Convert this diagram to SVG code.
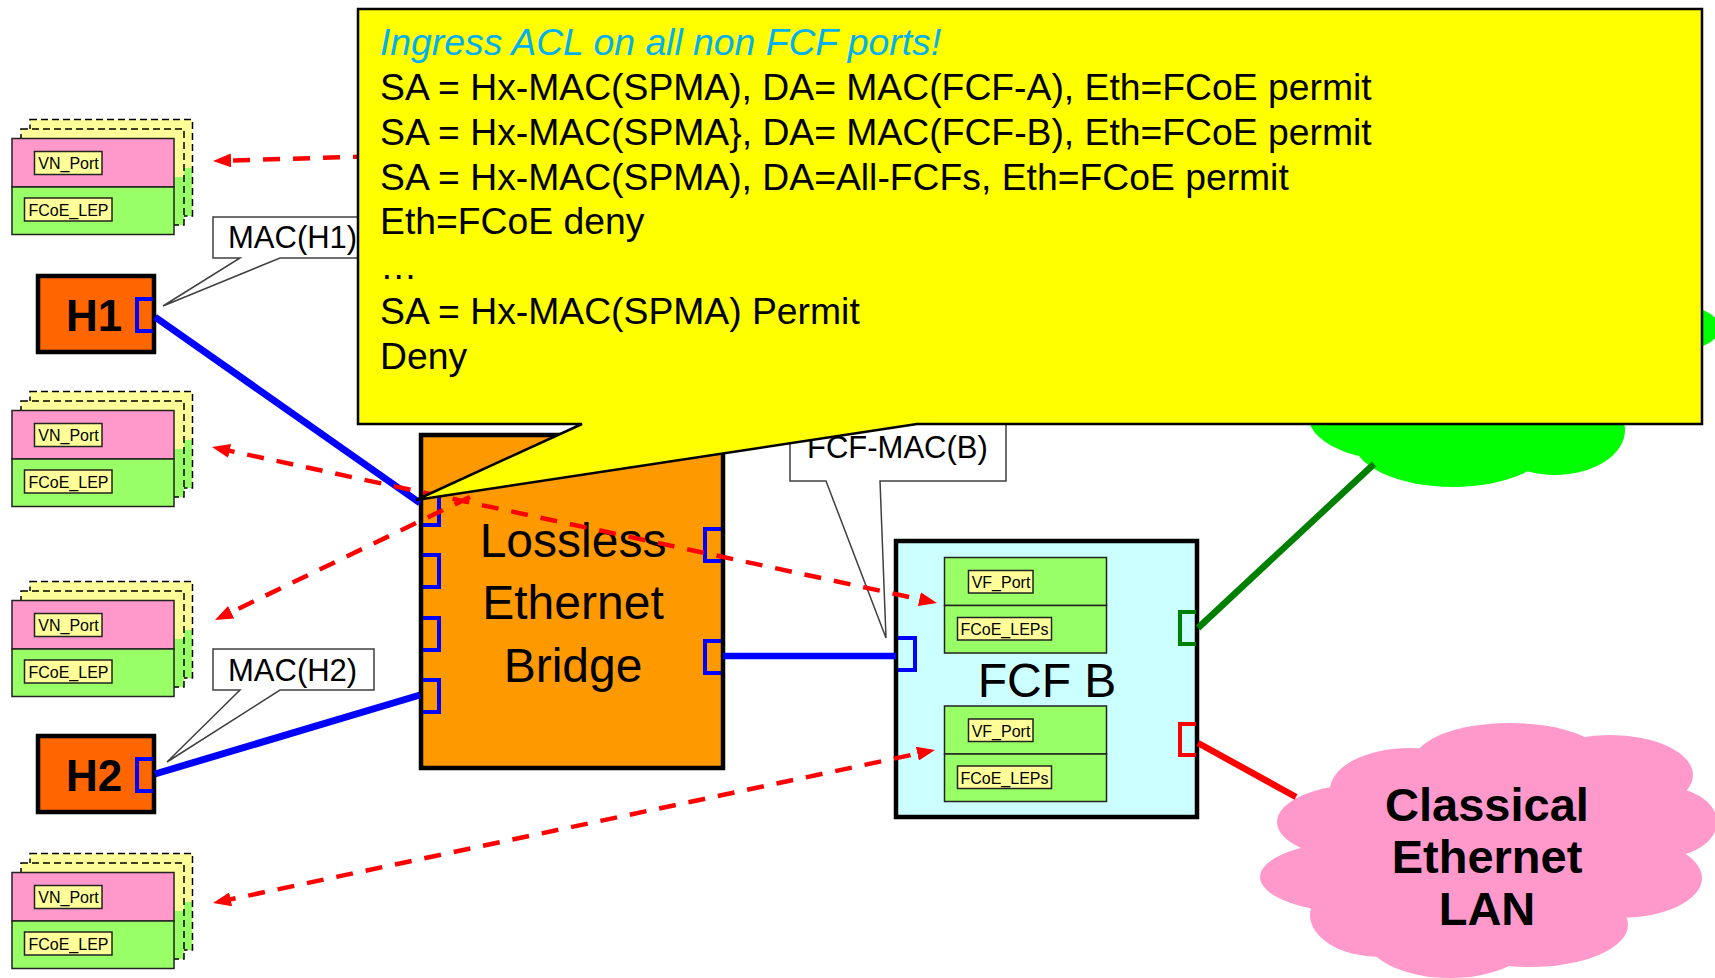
<svg xmlns="http://www.w3.org/2000/svg" width="1715" height="978" viewBox="0 0 1715 978">
<style>
text{font-family:"Liberation Sans",Arial,sans-serif;fill:#000}
.lbl{font-size:16px;text-anchor:middle}
.lblbox{fill:#FFFF99;stroke:#222;stroke-width:1.5}
.pink{fill:#FF99CC;stroke:#222;stroke-width:1.5}
.grn{fill:#99FF66;stroke:#222;stroke-width:1.5}
.back{fill:#FFFF99}
.backg{fill:#99FF66}
.dash{fill:none;stroke:#000;stroke-width:1.5;stroke-dasharray:7 4}
.port{fill:none;stroke:#0000FF;stroke-width:4}
.call{fill:#fff;stroke:#404040;stroke-width:1.5}
.calltxt{font-size:31px}
.big{font-size:48px;text-anchor:middle}
.acl{font-size:37.3px}
.arrow{fill:none;stroke:#FF0000;stroke-width:4.5;stroke-dasharray:17 13}
.host{fill:#FF6600;stroke:#000;stroke-width:4.5}
.hosttxt{font-size:44px;font-weight:bold}
</style>
<defs>
<marker id="ah" viewBox="0 0 18 14" refX="12" refY="7" markerWidth="18" markerHeight="14" markerUnits="userSpaceOnUse" orient="auto-start-reverse">
<path d="M0,0 L18,7 L0,14 z" fill="#FF0000"/>
</marker>
<g id="stack">
<rect class="back" x="30" y="119.5" width="162.5" height="96.5"/>
<rect class="backg" x="30" y="168" width="162.5" height="48"/>
<rect class="dash" x="30" y="119.5" width="162.5" height="96.5"/>
<rect class="back" x="21" y="129" width="163" height="96"/>
<rect class="backg" x="21" y="177" width="163" height="48"/>
<rect class="dash" x="21" y="129" width="163" height="96"/>
<rect class="pink" x="12" y="138.5" width="162" height="48.5"/>
<rect class="grn" x="12" y="187" width="162" height="47.5"/>
<rect class="lblbox" x="34.5" y="151.5" width="67.5" height="23"/>
<text class="lbl" x="68.5" y="169">VN_Port</text>
<rect class="lblbox" x="24.5" y="198" width="87.5" height="23"/>
<text class="lbl" x="68.5" y="216">FCoE_LEP</text>
</g>
<g id="vfgrp">
<rect class="grn" x="944.5" y="557.5" width="162" height="48"/>
<rect class="grn" x="944.5" y="605.5" width="162" height="47.5"/>
<rect class="lblbox" x="968.5" y="570.5" width="64.5" height="22.5"/>
<text class="lbl" x="1001" y="588">VF_Port</text>
<rect class="lblbox" x="957.5" y="617.5" width="94" height="22.5"/>
<text class="lbl" x="1004.5" y="635">FCoE_LEPs</text>
</g>
</defs>

<g id="fcoe-cloud" fill="#00FF00">
<ellipse cx="1500" cy="330" rx="180" ry="90"/>
<ellipse cx="1395" cy="415" rx="87" ry="45"/>
<ellipse cx="1453" cy="440" rx="100" ry="47"/>
<ellipse cx="1555" cy="430" rx="70" ry="45"/>
<ellipse cx="1670" cy="328" rx="50" ry="24"/>
</g>

<g id="lan-cloud">
<g fill="#FF99CC">
<ellipse cx="1490" cy="850" rx="160" ry="90"/>
<ellipse cx="1410" cy="790" rx="80" ry="42"/>
<ellipse cx="1510" cy="760" rx="95" ry="37"/>
<ellipse cx="1610" cy="775" rx="83" ry="40"/>
<ellipse cx="1660" cy="822" rx="57" ry="36"/>
<ellipse cx="1620" cy="878" rx="82" ry="40"/>
<ellipse cx="1530" cy="925" rx="98" ry="42"/>
<ellipse cx="1450" cy="935" rx="85" ry="43"/>
<ellipse cx="1380" cy="915" rx="70" ry="42"/>
<ellipse cx="1360" cy="877" rx="100" ry="36"/>
<ellipse cx="1365" cy="822" rx="88" ry="38"/>
</g>
<text x="1487" y="821" font-size="47" font-weight="bold" text-anchor="middle">Classical</text>
<text x="1487" y="873" font-size="47" font-weight="bold" text-anchor="middle">Ethernet</text>
<text x="1487" y="925" font-size="47" font-weight="bold" text-anchor="middle">LAN</text>
</g>

<g id="stack1"><use href="#stack"/></g>
<g id="stack2"><use href="#stack" transform="translate(0,272)"/></g>
<g id="stack3"><use href="#stack" transform="translate(0,462)"/></g>
<g id="stack4"><use href="#stack" transform="translate(0,734)"/></g>

<g id="H1">
<rect class="host" x="38" y="276" width="116" height="76"/>
<text class="hosttxt" x="66" y="331">H1</text>
<path class="port" d="M153,299 H137 V331 H153"/>
</g>
<g id="H2">
<rect class="host" x="38" y="736" width="116" height="76"/>
<text class="hosttxt" x="66" y="791">H2</text>
<path class="port" d="M153,759 H137 V791 H153"/>
</g>

<g id="mac-h1">
<path class="call" d="M213,217 H400 V258 H280 L163,306 L240,258 H213 Z"/>
<text class="calltxt" x="228" y="248">MAC(H1)</text>
</g>
<g id="mac-h2">
<path class="call" d="M213,649 H374 V690 H280 L167,762 L240,690 H213 Z"/>
<text class="calltxt" x="228" y="681">MAC(H2)</text>
</g>

<g id="bridge">
<rect x="421" y="435" width="302" height="333" fill="#FF9900" stroke="#000" stroke-width="4.5"/>
<text class="big" x="573" y="557">Lossless</text>
<text class="big" x="573" y="619">Ethernet</text>
<text class="big" x="573" y="682">Bridge</text>
<path class="port" d="M423,494 H439 V525 H423"/>
<path class="port" d="M423,555 H439 V587 H423"/>
<path class="port" d="M423,618 H439 V650 H423"/>
<path class="port" d="M423,680 H439 V712 H423"/>
<path class="port" d="M721,529 H705 V561 H721"/>
<path class="port" d="M721,641 H705 V673 H721"/>
</g>

<g id="fcf-b">
<rect x="896" y="541" width="301" height="276" fill="#CCFFFF" stroke="#000" stroke-width="4.5"/>
<use href="#vfgrp"/>
<use href="#vfgrp" transform="translate(0,148.5)"/>
<text class="big" x="1047" y="697">FCF B</text>
<path class="port" d="M898,638 H915 V670 H898"/>
<path d="M1196,612 H1180 V644 H1196" fill="none" stroke="#008000" stroke-width="4"/>
<path d="M1196,724 H1180 V755 H1196" fill="none" stroke="#FF0000" stroke-width="4"/>
</g>

<g id="fcf-mac-b">
<path class="call" d="M790,415 H1006 V481 H880 L886,638 L826,481 H790 Z"/>
<text class="calltxt" x="807" y="458">FCF-MAC(B)</text>
</g>

<g id="connectors">
<line x1="1198" y1="628" x2="1374" y2="464" stroke="#008000" stroke-width="6.5"/>
<line x1="1198" y1="743" x2="1296" y2="797" stroke="#FF0000" stroke-width="6.5"/>
<line x1="155" y1="317" x2="420" y2="503" stroke="#0000FF" stroke-width="7"/>
<line x1="155" y1="774" x2="420" y2="695" stroke="#0000FF" stroke-width="7"/>
<line x1="723" y1="656" x2="896" y2="656" stroke="#0000FF" stroke-width="6.5"/>
<line class="arrow" x1="400" y1="155.5" x2="219" y2="160.8" marker-end="url(#ah)"/>
<line class="arrow" x1="217.9" y1="448.3" x2="931.1" y2="601.7" marker-start="url(#ah)" marker-end="url(#ah)"/>
<line class="arrow" x1="470" y1="497" x2="220.4" y2="617.4" marker-end="url(#ah)"/>
<line class="arrow" x1="218.9" y1="901.8" x2="929.1" y2="751.2" marker-start="url(#ah)" marker-end="url(#ah)"/>
</g>

<g id="acl-callout">
<path d="M358,9 H1702 V424 H917 L416,500 L582,424 H358 Z" fill="#FFFF00" stroke="#000" stroke-width="2.5"/>
<text class="acl" x="380" y="55" font-style="italic" style="fill:#00B0F0">Ingress ACL on all non FCF ports!</text>
<text class="acl" x="380" y="100">SA = Hx-MAC(SPMA), DA= MAC(FCF-A), Eth=FCoE permit</text>
<text class="acl" x="380" y="145">SA = Hx-MAC(SPMA}, DA= MAC(FCF-B), Eth=FCoE permit</text>
<text class="acl" x="380" y="190">SA = Hx-MAC(SPMA), DA=All-FCFs, Eth=FCoE permit</text>
<text class="acl" x="380" y="234">Eth=FCoE deny</text>
<text class="acl" x="380" y="279">…</text>
<text class="acl" x="380" y="324">SA = Hx-MAC(SPMA) Permit</text>
<text class="acl" x="380" y="369">Deny</text>
</g>
</svg>
